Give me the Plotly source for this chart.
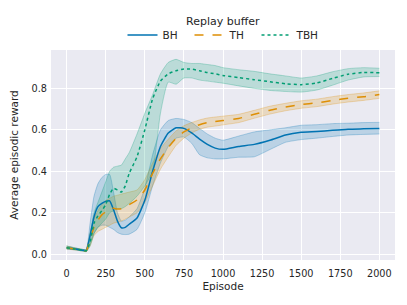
import plotly.graph_objects as go

episodes = [0, 50, 100, 125, 150, 175, 200, 225, 250, 275, 300, 325, 350, 375, 400, 450, 500, 550, 600, 650, 700, 750, 800, 850, 900, 950, 1000, 1100, 1200, 1300, 1400, 1500, 1600, 1700, 1800, 1900, 2000]

bh_mean = [0.032, 0.027, 0.020, 0.018, 0.09, 0.18, 0.23, 0.245, 0.255, 0.258, 0.215, 0.16, 0.128, 0.13, 0.145, 0.175, 0.26, 0.40, 0.52, 0.585, 0.61, 0.607, 0.585, 0.555, 0.53, 0.512, 0.506, 0.52, 0.53, 0.55, 0.575, 0.588, 0.592, 0.598, 0.603, 0.605, 0.607]
bh_upper = [0.040, 0.032, 0.024, 0.022, 0.15, 0.28, 0.34, 0.37, 0.385, 0.385, 0.30, 0.20, 0.16, 0.165, 0.18, 0.22, 0.32, 0.48, 0.60, 0.645, 0.655, 0.65, 0.635, 0.607, 0.58, 0.56, 0.55, 0.57, 0.59, 0.60, 0.61, 0.622, 0.625, 0.63, 0.632, 0.635, 0.636]
bh_lower = [0.025, 0.022, 0.016, 0.014, 0.05, 0.10, 0.13, 0.14, 0.14, 0.13, 0.12, 0.105, 0.097, 0.095, 0.097, 0.12, 0.20, 0.33, 0.44, 0.52, 0.56, 0.565, 0.535, 0.48, 0.465, 0.46, 0.46, 0.468, 0.47, 0.505, 0.54, 0.553, 0.56, 0.568, 0.575, 0.578, 0.58]

th_mean = [0.032, 0.026, 0.020, 0.017, 0.07, 0.13, 0.165, 0.19, 0.205, 0.22, 0.222, 0.218, 0.22, 0.23, 0.24, 0.262, 0.31, 0.39, 0.46, 0.515, 0.56, 0.59, 0.61, 0.625, 0.635, 0.64, 0.645, 0.655, 0.675, 0.695, 0.71, 0.722, 0.73, 0.742, 0.752, 0.76, 0.77]
th_upper = [0.040, 0.031, 0.024, 0.021, 0.10, 0.17, 0.21, 0.24, 0.26, 0.27, 0.28, 0.285, 0.29, 0.295, 0.30, 0.31, 0.36, 0.44, 0.51, 0.555, 0.595, 0.62, 0.635, 0.648, 0.657, 0.662, 0.666, 0.675, 0.694, 0.714, 0.728, 0.74, 0.748, 0.76, 0.77, 0.778, 0.788]
th_lower = [0.025, 0.021, 0.016, 0.013, 0.04, 0.09, 0.11, 0.12, 0.13, 0.14, 0.15, 0.155, 0.16, 0.17, 0.18, 0.20, 0.25, 0.33, 0.41, 0.47, 0.525, 0.56, 0.585, 0.603, 0.613, 0.618, 0.624, 0.635, 0.656, 0.676, 0.692, 0.704, 0.712, 0.724, 0.734, 0.742, 0.752]

tbh_mean = [0.032, 0.026, 0.020, 0.017, 0.06, 0.15, 0.185, 0.21, 0.24, 0.29, 0.318, 0.31, 0.30, 0.33, 0.39, 0.47, 0.60, 0.75, 0.835, 0.87, 0.885, 0.893, 0.893, 0.885, 0.876, 0.87, 0.862, 0.852, 0.842, 0.832, 0.822, 0.818, 0.826, 0.848, 0.868, 0.877, 0.875]
tbh_upper = [0.040, 0.031, 0.024, 0.022, 0.10, 0.20, 0.25, 0.30, 0.35, 0.40, 0.42, 0.425, 0.43, 0.46, 0.49, 0.58, 0.68, 0.77, 0.87, 0.925, 0.94, 0.925, 0.92, 0.92, 0.915, 0.91, 0.90, 0.89, 0.882, 0.87, 0.86, 0.85, 0.86, 0.88, 0.895, 0.90, 0.897]
tbh_lower = [0.026, 0.022, 0.016, 0.013, 0.04, 0.10, 0.13, 0.15, 0.17, 0.20, 0.21, 0.22, 0.22, 0.23, 0.245, 0.28, 0.33, 0.40, 0.68, 0.83, 0.82, 0.85, 0.85, 0.84, 0.835, 0.83, 0.825, 0.812, 0.80, 0.79, 0.785, 0.782, 0.792, 0.815, 0.84, 0.855, 0.857]

series = [
    ("BH", bh_mean, bh_upper, bh_lower, (1, 115, 178), "solid"),
    ("TH", th_mean, th_upper, th_lower, (222, 143, 5), "dash"),
    ("TBH", tbh_mean, tbh_upper, tbh_lower, (2, 158, 115), "dot"),
]

fig = go.Figure()
for name, m, up, lo, (r, g, b), dash in series:
    fig.add_trace(go.Scatter(x=episodes, y=up, mode="lines", showlegend=False, hoverinfo="skip",
                             line=dict(color=f"rgba({r},{g},{b},0.35)", width=0.8, shape="spline", smoothing=0.5)))
    fig.add_trace(go.Scatter(x=episodes, y=lo, mode="lines", showlegend=False, hoverinfo="skip",
                             fill="tonexty", fillcolor=f"rgba({r},{g},{b},0.2)",
                             line=dict(color=f"rgba({r},{g},{b},0.35)", width=0.8, shape="spline", smoothing=0.5)))
for name, m, up, lo, (r, g, b), dash in series:
    fig.add_trace(go.Scatter(x=episodes, y=m, mode="lines", name=name,
                             line=dict(color=f"rgb({r},{g},{b})", width=1.5, dash=dash, shape="spline", smoothing=0.5)))

# page body has an 8px margin, so the figure is 8px smaller and offsets are reduced by 8px
W, H = 399, 297
ML, MR, MT, MB = 43, 12, 42, 45
PW, PH = W - ML - MR, H - MT - MB
font = "DejaVu Sans"
fig.update_layout(
    width=W, height=H,
    margin=dict(l=ML, r=MR, t=MT, b=MB, autoexpand=False),
    paper_bgcolor="white", plot_bgcolor="#eaeaf2",
    font=dict(family=font, size=10, color="#262626"),
    legend=dict(orientation="h", x=(223 - 8) / W, xanchor="center", xref="container",
                y=1 - (35 - 8) / H, yanchor="middle", yref="container",
                traceorder="normal", entrywidth=22, entrywidthmode="pixels",
                font=dict(size=10.5), itemwidth=30, bgcolor="rgba(0,0,0,0)"),
    annotations=[dict(text="Replay buffer", x=(223 - 8 - ML) / PW, xref="paper", xanchor="center",
                      y=(H - MB - (21 - 8)) / PH, yref="paper", yanchor="middle", showarrow=False,
                      font=dict(size=11))],
    showlegend=True,
)
fig.update_xaxes(range=[-100, 2100], tickvals=[0, 250, 500, 750, 1000, 1250, 1500, 1750, 2000],
                 showgrid=True, gridcolor="white", gridwidth=1, zeroline=False, showline=False,
                 ticks="", automargin=False, ticklabelstandoff=6,
                 title=dict(text="Episode", standoff=4, font=dict(size=10.5)), tickfont=dict(size=9.7))
fig.update_yaxes(range=[-0.0275, 0.985], tickvals=[0, 0.2, 0.4, 0.6, 0.8], tickformat=".1f",
                 showgrid=True, gridcolor="white", gridwidth=1, zeroline=False, showline=False,
                 ticks="", automargin=False, ticklabelstandoff=3,
                 title=dict(text="Average episodic reward", standoff=10, font=dict(size=10.5)), tickfont=dict(size=9.7))

fig.write_html("out.html")
